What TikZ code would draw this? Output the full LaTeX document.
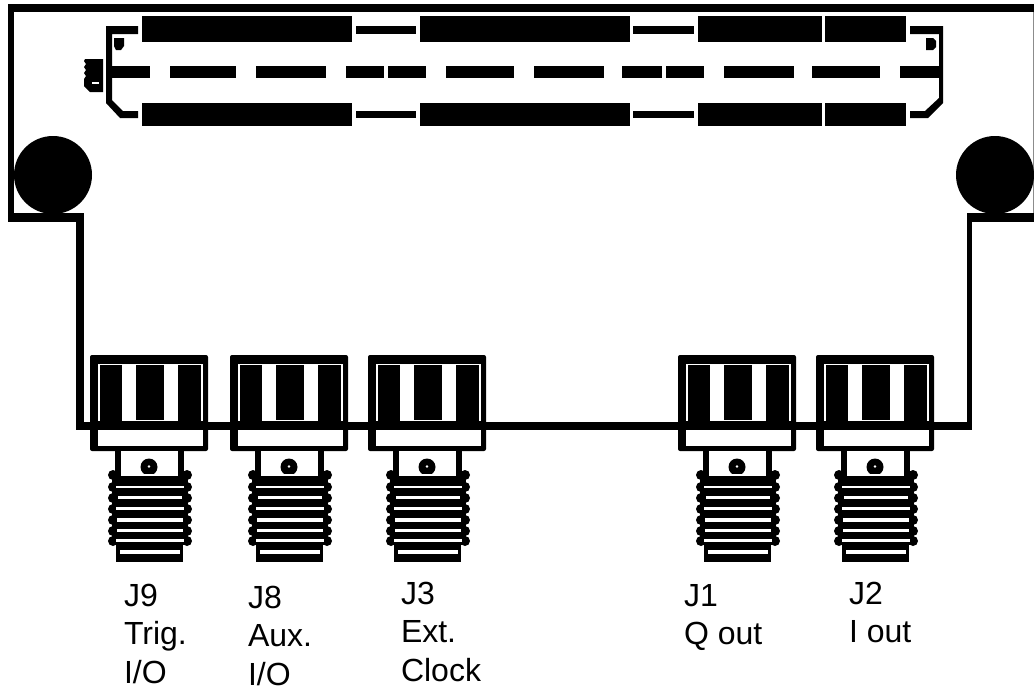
\documentclass[tikz,border=0pt]{standalone}
\usepackage{fontspec}
\setmainfont{Liberation Sans}
\tikzset{
  px/.style={x=1pt,y=-1pt},
  ink/.style={fill=black,draw=none},
  paper/.style={fill=white,draw=none},
  lbl/.style={anchor=north west,inner sep=0pt,outer sep=0pt,align=left,font=\fontsize{32}{38.5}\selectfont,text=black},
  sma/.pic={
    % cap body
    \fill[ink,rounded corners=2pt] (90,355) -- (208,355) -- (208,451) -- (90,451) -- cycle;
    \fill[paper] (98,363.5) rectangle (203,421);
    \fill[ink] (100,365) rectangle (122,421);
    \fill[ink] (136,365) rectangle (164,420);
    \fill[ink] (178,365) rectangle (201,421);
    \fill[paper] (98,429) rectangle (203,446);
    % neck
    \fill[ink] (115,451) rectangle (184,478);
    \fill[paper] (121,451) rectangle (178,478);
    \fill[ink] (149,467) circle (8.5);
    \fill[paper] (149,466.5) circle (1.3);
    % thread
    \fill[ink] (112,476) rectangle (188,545);
    \foreach \yy in {475,487,498,509,520,531,541}{
      \fill[ink] (113,\yy) circle (5);
      \fill[ink] (187,\yy) circle (5);
    }
    \fill[ink] (116,544) rectangle (183,562);
    \fill[paper] (121,474) rectangle (178,476);
    \fill[paper] (116,485.5) rectangle (184,488);
    \fill[paper] (118,495.5) rectangle (182,499);
    \fill[paper] (116,507) rectangle (184,509.5);
    \fill[paper] (117,518) rectangle (183,521.5);
    \fill[paper] (117,529) rectangle (183,532);
    \fill[paper] (116,539) rectangle (184,542);
    \fill[paper] (120,550) rectangle (180,554);
  }
}
\begin{document}
\begin{tikzpicture}[px]
\useasboundingbox (0,0) rectangle (1034,691);
\fill[white] (0,0) rectangle (1034,691);
% frame
\fill[ink] (8,4) rectangle (1034,12);
\fill[ink] (8,4) rectangle (14,222);
\fill[ink] (8,213) rectangle (84,222);
\fill[ink] (76,213) rectangle (84,430);
\fill[ink] (76,421.5) rectangle (972,429.5);
\fill[ink] (966.5,213) rectangle (972,429.5);
\fill[ink] (966.5,213) rectangle (1034,222);
\draw[draw=black!45,line width=0.8pt] (1033.4,12) -- (1033.4,213);
% mounting holes
\fill[ink] (53,175) circle (39);
\fill[ink] (995,175) circle (39);
% connector blocks top and bottom
\foreach \ya/\yb/\ta/\tb in {16/42/26/34,103/126/111/118}{
  \fill[ink] (142,\ya) rectangle (352,\yb);
  \fill[ink] (356,\ta) rectangle (416,\tb);
  \fill[ink] (420,\ya) rectangle (630,\yb);
  \fill[ink] (633,\ta) rectangle (694,\tb);
  \fill[ink] (698,\ya) rectangle (822,\yb);
  \fill[ink] (824.5,\ya) rectangle (906,\yb);
}
% middle row
\foreach \xa/\xb in {112/150,170/236,256/326,346/384,388/426,446/514,534/604,622/662,666/704,724/794,812/880,900/939}{
  \fill[ink] (\xa,66) rectangle (\xb,78);
}
% brackets
\fill[ink] (138,26) -- (106,26) -- (106,103) -- (120,118) -- (138,118) -- (138,111) -- (123,111) -- (112,100) -- (112,34) -- (138,34) -- cycle;
\fill[ink] (910,26) -- (943,26) -- (943,103) -- (928,118) -- (910,118) -- (910,111) -- (925,111) -- (939,98) -- (939,34) -- (910,34) -- cycle;
\fill[ink] (114,38) -- (124,38) -- (124,46) -- (121,50) -- (116,50) -- (114,46) -- cycle;
\fill[ink] (926,38) -- (933,38) -- (936,41) -- (936,47) -- (933,50) -- (926,50) -- cycle;
% silk blob
\fill[ink] (85,59) -- (103,59) -- (103,92) -- (90,92) -- (84,86) -- (84,79) -- (86,76) -- (84,73) -- (86,70) -- (84,67) -- (86,64) -- (84,61) -- cycle;
\fill[paper] (92,82) rectangle (99,84);
% coax connectors
\foreach \dx in {0,140,278,588,726}{
  \pic at (\dx,0) {sma};
}
% main line across bodies
\fill[ink] (90,421.5) rectangle (934,429.5);
% labels
\node[lbl] (j9) at (124,584) {J9\\Trig.\\I/O};
\node[lbl] (j8) at (248,586) {J8\\Aux.\\I/O};
\node[lbl] (j3) at (401,582) {J3\\Ext.\\Clock};
\node[lbl] (j1) at (684,584) {J1\\Q out};
\node[lbl] (j2) at (849,582) {J2\\I out};
\end{tikzpicture}
\end{document}
